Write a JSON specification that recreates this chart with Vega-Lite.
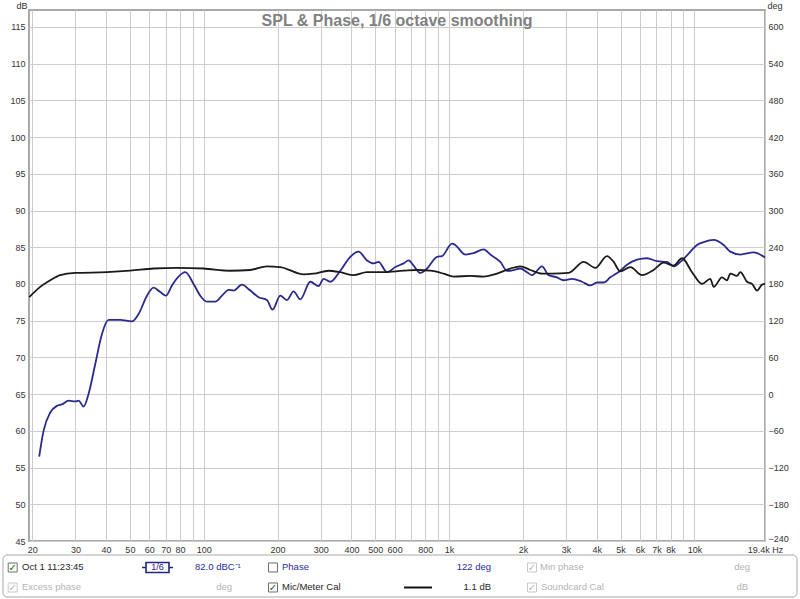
{
  "$schema": "https://vega.github.io/schema/vega-lite/v6.json",
  "padding": {"left": 2, "top": 0, "right": 0, "bottom": 0},
  "config": {"font": "Liberation Sans", "view": {"stroke": null}},
  "datasets": {
    "spl": [
      {"f": 21.35, "db": 56.5}, {"f": 22.24, "db": 60.0}, {"f": 23.68, "db": 62.5}, {"f": 25.22, "db": 63.4},
      {"f": 26.43, "db": 63.6}, {"f": 28.13, "db": 64.1}, {"f": 29.96, "db": 64.0}, {"f": 30.9, "db": 64.1},
      {"f": 32.38, "db": 63.3}, {"f": 33.92, "db": 65.0}, {"f": 36.13, "db": 69.1}, {"f": 38.48, "db": 73.2},
      {"f": 40.94, "db": 75.1}, {"f": 45.69, "db": 75.1}, {"f": 50.98, "db": 74.9}, {"f": 54.25, "db": 75.9},
      {"f": 58.71, "db": 78.4}, {"f": 62.44, "db": 79.5}, {"f": 66.48, "db": 78.9}, {"f": 70.15, "db": 78.4},
      {"f": 74.22, "db": 79.8}, {"f": 78.96, "db": 81.0}, {"f": 84.07, "db": 81.6}, {"f": 90.91, "db": 80.0},
      {"f": 96.8, "db": 78.4}, {"f": 103.1, "db": 77.6}, {"f": 111.4, "db": 77.6}, {"f": 118.7, "db": 78.4},
      {"f": 126.3, "db": 79.2}, {"f": 132.3, "db": 79.1}, {"f": 143.2, "db": 79.9}, {"f": 154.8, "db": 79.1},
      {"f": 167.3, "db": 78.2}, {"f": 181.0, "db": 77.8}, {"f": 190.8, "db": 76.5}, {"f": 205.1, "db": 78.4},
      {"f": 218.4, "db": 77.8}, {"f": 232.4, "db": 79.0}, {"f": 247.6, "db": 77.9}, {"f": 271.9, "db": 80.3},
      {"f": 293.9, "db": 79.7}, {"f": 308.0, "db": 80.7}, {"f": 328.0, "db": 80.3}, {"f": 360.2, "db": 81.8},
      {"f": 395.8, "db": 83.7}, {"f": 427.8, "db": 84.4}, {"f": 462.9, "db": 83.2}, {"f": 492.5, "db": 82.8},
      {"f": 516.1, "db": 83.0}, {"f": 558.4, "db": 81.6}, {"f": 603.7, "db": 82.3}, {"f": 652.7, "db": 82.8},
      {"f": 684.1, "db": 83.2}, {"f": 716.9, "db": 82.5}, {"f": 763.5, "db": 81.5}, {"f": 813.4, "db": 82.1},
      {"f": 893.2, "db": 83.7}, {"f": 935.9, "db": 83.8}, {"f": 1028, "db": 85.5}, {"f": 1060, "db": 85.3},
      {"f": 1165, "db": 84.0}, {"f": 1259, "db": 84.2}, {"f": 1383, "db": 84.7}, {"f": 1473, "db": 84.0},
      {"f": 1618, "db": 83.0}, {"f": 1723, "db": 81.8}, {"f": 1777, "db": 81.8}, {"f": 1952, "db": 82.1},
      {"f": 2078, "db": 81.6}, {"f": 2179, "db": 81.2}, {"f": 2393, "db": 82.4}, {"f": 2546, "db": 81.2},
      {"f": 2754, "db": 80.9}, {"f": 2930, "db": 80.5}, {"f": 3170, "db": 80.7}, {"f": 3482, "db": 80.3},
      {"f": 3765, "db": 79.8}, {"f": 4009, "db": 80.2}, {"f": 4266, "db": 80.2}, {"f": 4543, "db": 80.9},
      {"f": 4989, "db": 81.8}, {"f": 5313, "db": 82.6}, {"f": 5839, "db": 83.3}, {"f": 6411, "db": 83.5},
      {"f": 7044, "db": 83.1}, {"f": 7735, "db": 83.0}, {"f": 8230, "db": 82.4}, {"f": 8766, "db": 83.0},
      {"f": 9336, "db": 83.9}, {"f": 10250, "db": 85.3}, {"f": 10910, "db": 85.7}, {"f": 11980, "db": 86.0},
      {"f": 13160, "db": 85.3}, {"f": 14010, "db": 84.4}, {"f": 15390, "db": 84.0}, {"f": 17440, "db": 84.3},
      {"f": 19400, "db": 83.6}
    ],
    "cal": [
      {"f": 19.44, "db": 78.2}, {"f": 21.55, "db": 79.6}, {"f": 23.68, "db": 80.5}, {"f": 26.01, "db": 81.2},
      {"f": 29.96, "db": 81.5}, {"f": 40.33, "db": 81.6}, {"f": 50.18, "db": 81.8}, {"f": 62.44, "db": 82.1},
      {"f": 77.79, "db": 82.2}, {"f": 99.81, "db": 82.1}, {"f": 128.3, "db": 81.8}, {"f": 154.8, "db": 81.9},
      {"f": 181.0, "db": 82.4}, {"f": 205.1, "db": 82.3}, {"f": 255.3, "db": 81.3}, {"f": 280.5, "db": 81.4},
      {"f": 322.8, "db": 81.8}, {"f": 360.2, "db": 81.6}, {"f": 408.2, "db": 81.2}, {"f": 462.9, "db": 81.6},
      {"f": 540.7, "db": 81.6}, {"f": 652.7, "db": 81.8}, {"f": 740.3, "db": 81.9}, {"f": 838.6, "db": 81.8},
      {"f": 950.3, "db": 81.4}, {"f": 1043, "db": 81.0}, {"f": 1221, "db": 81.1}, {"f": 1383, "db": 81.0},
      {"f": 1568, "db": 81.4}, {"f": 1777, "db": 82.1}, {"f": 1952, "db": 82.4}, {"f": 2145, "db": 81.9},
      {"f": 2400, "db": 81.4}, {"f": 2636, "db": 81.4}, {"f": 3071, "db": 81.5}, {"f": 3537, "db": 83.0},
      {"f": 3947, "db": 82.2}, {"f": 4405, "db": 83.8}, {"f": 4688, "db": 83.0}, {"f": 4989, "db": 81.7},
      {"f": 5481, "db": 82.3}, {"f": 6117, "db": 81.2}, {"f": 6820, "db": 81.9}, {"f": 7489, "db": 82.9},
      {"f": 8230, "db": 82.5}, {"f": 8906, "db": 83.5}, {"f": 9780, "db": 81.6}, {"f": 10740, "db": 80.0},
      {"f": 11610, "db": 80.7}, {"f": 11980, "db": 79.6}, {"f": 12960, "db": 80.9}, {"f": 13580, "db": 80.5},
      {"f": 14010, "db": 81.4}, {"f": 14920, "db": 81.1}, {"f": 15390, "db": 81.6}, {"f": 16390, "db": 80.3},
      {"f": 17180, "db": 80.0}, {"f": 18010, "db": 79.1}, {"f": 18870, "db": 79.9}, {"f": 19400, "db": 80.0}
    ],
    "panel": [
      {"kind": "box", "col": 9.7, "row": 1, "state": "active"},
      {"kind": "check", "col": 9.7, "row": 1, "state": "checked", "text": "✓"},
      {"kind": "label", "col": 19, "row": 1, "state": "active", "text": "Oct 1 11:23:45"},
      {"kind": "icon", "col": 154.5, "row": 1, "text": "1/6"},
      {"kind": "label", "col": 192, "row": 1, "state": "highlight", "text": "82.0 dBC⁻¹"},
      {"kind": "box", "col": 270, "row": 1, "state": "active"},
      {"kind": "label", "col": 279, "row": 1, "state": "highlight", "text": "Phase"},
      {"kind": "rvalue", "col": 488, "row": 1, "state": "highlight", "text": "122 deg"},
      {"kind": "box", "col": 529, "row": 1, "state": "disabled"},
      {"kind": "check", "col": 529, "row": 1, "state": "disabled", "text": "✓"},
      {"kind": "label", "col": 537, "row": 1, "state": "disabled", "text": "Min phase"},
      {"kind": "rvalue", "col": 747, "row": 1, "state": "disabled", "text": "deg"},
      {"kind": "box", "col": 9.7, "row": 2, "state": "disabled"},
      {"kind": "check", "col": 9.7, "row": 2, "state": "disabled", "text": "✓"},
      {"kind": "label", "col": 19, "row": 2, "state": "disabled", "text": "Excess phase"},
      {"kind": "rvalue", "col": 229, "row": 2, "state": "disabled", "text": "deg"},
      {"kind": "box", "col": 270, "row": 2, "state": "active"},
      {"kind": "check", "col": 270, "row": 2, "state": "checked", "text": "✓"},
      {"kind": "label", "col": 279, "row": 2, "state": "active", "text": "Mic/Meter Cal"},
      {"kind": "sample", "col": 415, "row": 2},
      {"kind": "rvalue", "col": 488, "row": 2, "state": "active", "text": "1.1 dB"},
      {"kind": "box", "col": 529, "row": 2, "state": "disabled"},
      {"kind": "check", "col": 529, "row": 2, "state": "disabled", "text": "✓"},
      {"kind": "label", "col": 538, "row": 2, "state": "disabled", "text": "Soundcard Cal"},
      {"kind": "rvalue", "col": 745, "row": 2, "state": "disabled", "text": "dB"}
    ]
  },
  "concat": [
    {
      "width": 736,
      "height": 531,
      "title": {"text": "SPL & Phase, 1/6 octave smoothing", "fontSize": 16, "fontWeight": "bold", "color": "#808080", "anchor": "middle", "frame": "group", "offset": -41, "baseline": "alphabetic"},
      "view": {"stroke": "#a8a8a8", "strokeWidth": 2},
      "encoding": {
        "x": {
          "field": "f", "type": "quantitative",
          "scale": {"type": "log", "domain": [19.4, 19400], "nice": false},
          "axis": {
            "title": null,
            "values": [20, 30, 40, 50, 60, 70, 80, 90, 100, 200, 300, 400, 500, 600, 700, 800, 900, 1000, 2000, 3000, 4000, 5000, 6000, 7000, 8000, 9000, 10000, 19400],
            "labelExpr": "indexof([90, 700, 900, 9000], datum.value) >= 0 ? '' : (datum.value > 19000 ? '19.4k Hz' : (datum.value >= 1000 ? format(datum.value / 1000, 'd') + 'k' : format(datum.value, 'd')))",
            "grid": true, "gridColor": "#cdcdcd", "gridWidth": 1,
            "domain": false, "ticks": false, "labelPadding": 4,
            "labelFontSize": 9, "labelColor": "#333333",
            "labelOverlap": false, "labelFlush": false, "labelBound": false
          }
        }
      },
      "layer": [
        {
          "data": {"name": "spl"},
          "mark": {"type": "line", "color": "#2a2a8c", "strokeWidth": 1.8, "interpolate": "monotone"},
          "encoding": {
            "y": {
              "field": "db", "type": "quantitative",
              "scale": {"domain": [45, 117.3], "nice": false, "zero": false},
              "axis": {
                "orient": "left", "title": "dB",
                "values": [45, 50, 55, 60, 65, 70, 75, 80, 85, 90, 95, 100, 105, 110, 115],
                "grid": true, "gridColor": "#cdcdcd", "gridWidth": 1,
                "domain": false, "ticks": false, "labelPadding": 4,
                "labelFontSize": 9, "labelColor": "#333333", "labelFlush": false, "labelOverlap": false,
                "titleAngle": 0, "titleX": -2, "titleY": -2, "titleAlign": "right", "titleBaseline": "alphabetic",
                "titleFontSize": 9, "titleFontWeight": "normal", "titleColor": "#333333"
              }
            }
          }
        },
        {
          "data": {"name": "cal"},
          "mark": {"type": "line", "color": "#1a1a1a", "strokeWidth": 1.8, "interpolate": "monotone"},
          "encoding": {
            "y": {
              "field": "db", "type": "quantitative",
              "scale": {"domain": [45, 117.3], "nice": false, "zero": false},
              "axis": {
                "orient": "right", "title": "deg",
                "values": [45, 50, 55, 60, 65, 70, 75, 80, 85, 90, 95, 100, 105, 110, 115],
                "labelExpr": "format((datum.value - 45) * 12 - 240, 'd')",
                "labelOffset": {"condition": {"test": "datum.value == 45", "value": -2.5}, "value": 0},
                "grid": false, "domain": false, "ticks": false, "labelPadding": 3,
                "labelFontSize": 9, "labelColor": "#333333", "labelFlush": false, "labelOverlap": false,
                "titleAngle": 0, "titleX": 2, "titleY": -2, "titleAlign": "left", "titleBaseline": "alphabetic",
                "titleFontSize": 9, "titleFontWeight": "normal", "titleColor": "#333333"
              }
            }
          }
        }
      ],
      "resolve": {"axis": {"y": "independent"}}
    },
    {
      "width": 736,
      "height": 42,
      "view": {"stroke": null},
      "layer": [
        {
          "data": {"values": [{}]},
          "mark": {"type": "rect", "fill": "white", "stroke": "#a8a8a8", "strokeWidth": 1, "cornerRadius": 4},
          "encoding": {
            "x": {"datum": 0, "type": "quantitative", "scale": {"domain": [26, 762], "nice": false, "zero": false}, "axis": null},
            "x2": {"datum": 794}
          }
        },
        {
          "data": {"name": "panel"},
          "transform": [{"filter": "datum.kind == 'box'"}],
          "mark": {"type": "point", "shape": "square", "filled": true, "fill": "white", "size": 81, "strokeWidth": 1, "opacity": 1},
          "encoding": {
            "x": {"field": "col", "type": "quantitative", "scale": {"domain": [26, 762], "nice": false, "zero": false}, "axis": null},
            "y": {"field": "row", "type": "ordinal", "scale": {"type": "point", "domain": [1, 2], "padding": 0.55, "align": 0.568}, "axis": null},
            "stroke": {"field": "state", "type": "nominal", "scale": {"domain": ["active", "disabled"], "range": ["#6e6e6e", "#c8c8c8"]}, "legend": null}
          }
        },
        {
          "data": {"name": "panel"},
          "transform": [{"filter": "datum.kind == 'check'"}],
          "mark": {"type": "text", "font": "DejaVu Sans", "fontSize": 10, "align": "center", "baseline": "middle", "dy": 0.5},
          "encoding": {
            "x": {"field": "col", "type": "quantitative", "scale": {"domain": [26, 762], "nice": false, "zero": false}, "axis": null},
            "y": {"field": "row", "type": "ordinal", "scale": {"type": "point", "domain": [1, 2], "padding": 0.55, "align": 0.568}, "axis": null},
            "text": {"field": "text"},
            "color": {"field": "state", "type": "nominal", "scale": {"domain": ["active", "highlight", "disabled", "checked"], "range": ["#1e1e1e", "#2a2a9c", "#b4b4b4", "#1f5a1f"]}, "legend": null}
          }
        },
        {
          "data": {"name": "panel"},
          "transform": [{"filter": "datum.kind == 'label'"}],
          "mark": {"type": "text", "fontSize": 9.5, "align": "left", "baseline": "middle"},
          "encoding": {
            "x": {"field": "col", "type": "quantitative", "scale": {"domain": [26, 762], "nice": false, "zero": false}, "axis": null},
            "y": {"field": "row", "type": "ordinal", "scale": {"type": "point", "domain": [1, 2], "padding": 0.55, "align": 0.568}, "axis": null},
            "text": {"field": "text"},
            "color": {"field": "state", "type": "nominal", "scale": {"domain": ["active", "highlight", "disabled", "checked"], "range": ["#1e1e1e", "#2a2a9c", "#b4b4b4", "#1f5a1f"]}, "legend": null}
          }
        },
        {
          "data": {"name": "panel"},
          "transform": [{"filter": "datum.kind == 'rvalue'"}],
          "mark": {"type": "text", "fontSize": 9.5, "align": "right", "baseline": "middle"},
          "encoding": {
            "x": {"field": "col", "type": "quantitative", "scale": {"domain": [26, 762], "nice": false, "zero": false}, "axis": null},
            "y": {"field": "row", "type": "ordinal", "scale": {"type": "point", "domain": [1, 2], "padding": 0.55, "align": 0.568}, "axis": null},
            "text": {"field": "text"},
            "color": {"field": "state", "type": "nominal", "scale": {"domain": ["active", "highlight", "disabled", "checked"], "range": ["#1e1e1e", "#2a2a9c", "#b4b4b4", "#1f5a1f"]}, "legend": null}
          }
        },
        {
          "data": {"name": "panel"},
          "transform": [{"filter": "datum.kind == 'icon'"}],
          "mark": {"type": "point", "shape": "M-1,0H-0.742M0.742,0H1M-0.742,-0.323H0.742V0.323H-0.742Z", "size": 961, "filled": false, "stroke": "#24247e", "strokeWidth": 1.6, "opacity": 1},
          "encoding": {
            "x": {"field": "col", "type": "quantitative", "scale": {"domain": [26, 762], "nice": false, "zero": false}, "axis": null},
            "y": {"field": "row", "type": "ordinal", "scale": {"type": "point", "domain": [1, 2], "padding": 0.55, "align": 0.568}, "axis": null}
          }
        },
        {
          "data": {"name": "panel"},
          "transform": [{"filter": "datum.kind == 'icon'"}],
          "mark": {"type": "text", "fontSize": 9, "align": "center", "baseline": "middle", "color": "#24247e"},
          "encoding": {
            "x": {"field": "col", "type": "quantitative", "scale": {"domain": [26, 762], "nice": false, "zero": false}, "axis": null},
            "y": {"field": "row", "type": "ordinal", "scale": {"type": "point", "domain": [1, 2], "padding": 0.55, "align": 0.568}, "axis": null},
            "text": {"field": "text"}
          }
        },
        {
          "data": {"name": "panel"},
          "transform": [{"filter": "datum.kind == 'sample'"}],
          "mark": {"type": "point", "shape": "M-1,0H1", "size": 784, "filled": false, "stroke": "#111111", "strokeWidth": 2, "opacity": 1},
          "encoding": {
            "x": {"field": "col", "type": "quantitative", "scale": {"domain": [26, 762], "nice": false, "zero": false}, "axis": null},
            "y": {"field": "row", "type": "ordinal", "scale": {"type": "point", "domain": [1, 2], "padding": 0.55, "align": 0.568}, "axis": null}
          }
        }
      ]
    }
  ],
  "columns": 1,
  "spacing": -2
}
